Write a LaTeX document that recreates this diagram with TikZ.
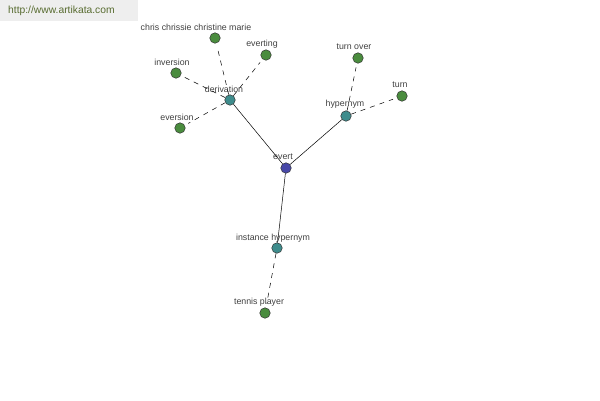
\documentclass[tikz,border=0pt]{standalone}
\usepackage{fontspec}
\setmainfont{Liberation Sans}
\definecolor{rootblue}{RGB}{72, 72, 168}
\definecolor{hubteal}{RGB}{62, 140, 140}
\definecolor{leafgreen}{RGB}{74, 140, 62}
\definecolor{markgray}{RGB}{238, 238, 238}
\definecolor{markolive}{RGB}{88, 108, 48}

\begin{document}
\begin{tikzpicture}[x=1pt, y=-1pt,
    dot/.style={circle, draw=black!80, line width=0.5pt, inner sep=0pt, minimum size=10.5pt},
    word/.style={font=\fontsize{8.8}{10}\selectfont, text=black!75, inner sep=0pt},
    solidlink/.style={line width=0.5pt},
    dashlink/.style={line width=0.5pt, dash pattern=on 5pt off 5pt, shorten >=4pt}]
                \useasboundingbox (0,0) rectangle (600,400);
                \fill[markgray] (0,0) rectangle (138,21);
                \node[font=\fontsize{10.3}{11}\selectfont, text=markolive, anchor=west, inner sep=0pt] (site) at (8,11) {http://www.artikata.com};
                % centre and hubs
                \node[dot, fill=rootblue] (evert) at (286,168) {};
                \node[dot, fill=hubteal] (deriv) at (230,100) {};
                \node[dot, fill=hubteal] (hyper) at (346,116) {};
                \node[dot, fill=hubteal] (inst) at (277,248) {};
                % leaves
                \node[dot, fill=leafgreen] (chris) at (215,38) {};
                \node[dot, fill=leafgreen] (everting) at (266,55) {};
                \node[dot, fill=leafgreen] (inversion) at (176,73) {};
                \node[dot, fill=leafgreen] (eversion) at (180,128) {};
                \node[dot, fill=leafgreen] (turnover) at (358,58) {};
                \node[dot, fill=leafgreen] (turn) at (402,96) {};
                \node[dot, fill=leafgreen] (tennis) at (265,313) {};
                % labels
                \node[word] (evertlbl) at (283,157) {evert};
                \node[word] (derivlbl) at (224,89) {derivation};
                \node[word] (hyperlbl) at (345,104) {hypernym};
                \node[word] (instlbl) at (273,238) {instance hypernym};
                \node[word] (chrislbl) at (196,27) {chris chrissie christine marie};
                \node[word] (evertinglbl) at (262,44) {everting};
                \node[word] (inversionlbl) at (172,62) {inversion};
                \node[word] (eversionlbl) at (177,117) {eversion};
                \node[word] (turnoverlbl) at (354,47) {turn over};
                \node[word] (turnlbl) at (400,85) {turn};
                \node[word] (tennislbl) at (259,302) {tennis player};
                % links
                \draw[solidlink] (evert) -- (deriv);
                \draw[solidlink] (evert) -- (hyper);
                \draw[solidlink] (evert) -- (inst);
                \draw[dashlink] (deriv) -- (chris);
                \draw[dashlink] (deriv) -- (everting);
                \draw[dashlink] (deriv) -- (inversion);
                \draw[dashlink] (deriv) -- (eversion);
                \draw[dashlink] (hyper) -- (turnover);
                \draw[dashlink] (hyper) -- (turn);
                \draw[dashlink] (inst) -- (tennis);
            \end{tikzpicture}
\end{document}
